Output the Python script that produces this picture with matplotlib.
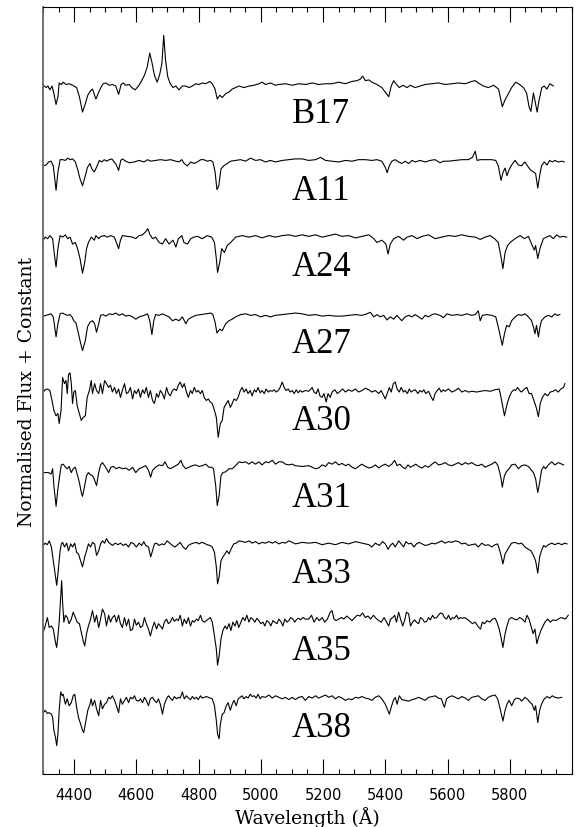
import numpy as np
import matplotlib
matplotlib.use("Agg")
import matplotlib.pyplot as plt
from matplotlib.ticker import MultipleLocator

# (wavelength [A], normalised flux), one list per star
B17 = [(4301,0.98),(4310,0.95),(4316,0.97),(4322,0.92),(4329,0.97),(4334,0.89),(4342,0.73),(4348,0.83),(4352,1.01),(4359,0.99),(4365,1.02),(4374,0.99),(4384,1.00),(4395,0.98),(4408,0.95),(4417,0.83),(4427,0.63),(4436,0.74),(4444,0.85),(4453,0.91),(4459,0.93),(4470,0.80),(4479,0.89),(4486,0.95),(4493,1.00),(4502,1.01),(4513,0.98),(4523,0.99),(4534,0.97),(4543,0.86),(4551,0.99),(4558,1.01),(4566,0.98),(4577,0.99),(4585,0.95),(4596,0.92),(4607,0.97),(4617,1.04),(4626,1.11),(4635,1.22),(4643,1.40),(4650,1.28),(4658,1.11),(4667,1.02),(4675,1.12),(4682,1.26),(4688,1.63),(4694,1.30),(4701,1.09),(4709,1.00),(4718,0.95),(4727,0.97),(4737,0.92),(4748,0.97),(4759,0.97),(4769,0.95),(4780,0.97),(4791,1.00),(4801,0.99),(4812,1.01),(4823,1.00),(4836,1.03),(4844,1.00),(4853,0.93),(4860,0.80),(4868,0.85),(4876,0.82),(4887,0.87),(4897,0.89),(4908,0.93),(4919,0.95),(4930,0.97),(4946,0.95),(4962,0.97),(4978,0.98),(4994,1.00),(5004,1.02),(5015,0.99),(5031,1.01),(5047,0.98),
       (5058,0.99),(5079,1.00),(5101,0.98),(5122,1.00),(5144,0.99),(5165,1.01),(5186,0.99),(5208,1.00),(5229,1.00),(5250,1.02),(5272,1.00),(5293,1.03),(5309,1.04),(5320,1.06),(5327,1.10),(5336,1.04),(5347,1.05),(5357,1.02),(5373,0.99),(5389,0.95),(5402,0.88),(5411,0.83),(5419,0.97),(5427,1.04),(5434,1.00),(5445,0.95),(5456,0.98),(5470,0.95),(5480,0.98),(5496,0.95),(5512,0.97),(5528,0.99),(5550,1.00),(5571,1.01),(5593,0.99),(5614,1.00),(5635,1.01),(5657,1.00),(5678,1.03),(5689,1.04),(5699,1.01),(5715,0.97),(5731,0.95),(5748,0.98),(5764,0.93),(5772,0.78),(5776,0.70),(5785,0.79),(5793,0.85),(5806,0.95),(5819,1.02),(5828,1.00),(5844,0.95),(5854,0.88),(5862,0.70),(5868,0.64),(5876,0.88),(5881,0.78),(5888,0.63),(5894,0.78),(5903,0.95),(5911,0.97),(5919,0.93),(5929,1.00),(5940,0.97)]

A11 = [(4301,0.93),(4310,0.94),(4318,0.98),(4326,0.99),(4333,0.93),(4342,0.61),(4348,0.85),(4355,1.01),(4363,1.01),(4372,1.00),(4379,1.03),(4387,1.01),(4395,1.02),(4404,0.98),(4411,0.89),(4419,0.76),(4427,0.67),(4436,0.80),(4443,0.91),(4451,0.96),(4457,0.89),(4465,0.85),(4472,0.91),(4481,1.00),(4489,0.98),(4497,1.01),(4504,0.99),(4513,1.01),(4521,1.02),(4529,0.98),(4536,0.94),(4543,0.87),(4550,1.00),(4555,1.02),(4566,0.99),(4577,0.97),(4593,0.98),(4609,1.00),(4625,0.98),(4636,1.01),(4646,0.99),(4662,1.00),(4678,1.01),(4694,1.00),(4710,1.01),(4727,0.99),(4737,0.98),(4746,1.01),(4754,0.96),(4764,0.93),(4775,0.98),(4785,0.96),(4796,0.98),(4807,1.01),(4817,1.01),(4828,0.99),(4839,1.00),(4846,0.98),(4853,0.85),(4859,0.62),(4865,0.67),(4872,0.89),(4881,0.93),(4892,0.96),(4903,0.99),(4919,1.00),(4935,1.01),(4951,0.99),(4967,1.03),(4983,1.00),(4999,1.01),(5015,0.98),(5031,1.00),(5047,0.98),(5069,1.00),(5090,1.01),(5111,1.02),(5133,1.02),
       (5154,1.00),(5176,1.01),(5192,1.04),(5208,1.00),(5229,0.99),(5250,0.98),(5272,1.00),(5293,0.99),(5314,1.01),(5336,1.01),(5357,1.00),(5373,1.01),(5389,0.99),(5400,0.91),(5406,0.84),(5413,0.93),(5421,0.99),(5432,1.01),(5443,0.98),(5453,0.96),(5464,0.99),(5475,0.96),(5486,1.00),(5496,0.98),(5512,1.00),(5528,0.98),(5544,1.00),(5560,1.01),(5576,0.97),(5587,0.99),(5603,0.99),(5625,1.00),(5646,1.01),(5667,1.01),(5680,1.04),(5689,1.12),(5695,1.00),(5705,1.01),(5721,1.01),(5742,1.01),(5755,1.00),(5763,0.93),(5772,0.74),(5778,0.84),(5785,0.90),(5791,0.80),(5798,0.88),(5806,0.94),(5817,1.00),(5828,0.94),(5838,0.93),(5849,0.98),(5860,0.91),(5868,0.87),(5876,0.85),(5883,0.83),(5890,0.64),(5896,0.80),(5902,0.93),(5911,0.98),(5920,0.94),(5928,1.00),(5937,0.98),(5945,1.00),(5956,0.98),(5967,0.99),(5975,0.98)]

A24 = [(4301,0.96),(4307,1.00),(4315,0.98),(4322,1.02),(4331,0.98),(4337,0.76),(4342,0.61),(4348,0.85),(4355,1.02),(4363,1.00),(4372,1.03),(4379,0.98),(4387,1.00),(4395,0.91),(4404,0.93),(4411,0.85),(4419,0.72),(4427,0.53),(4434,0.67),(4440,0.85),(4446,0.93),(4455,1.00),(4465,0.96),(4470,1.02),(4479,0.98),(4486,1.01),(4497,1.02),(4507,1.00),(4518,1.02),(4529,1.00),(4536,0.93),(4543,0.85),(4549,0.96),(4555,1.02),(4572,1.01),(4588,1.00),(4598,0.98),(4609,1.02),(4620,1.03),(4630,1.07),(4637,1.11),(4643,1.04),(4652,0.98),(4662,1.00),(4673,0.93),(4684,0.91),(4694,0.98),(4705,0.91),(4718,0.96),(4727,0.87),(4735,0.98),(4746,1.02),(4753,0.93),(4764,0.91),(4775,0.98),(4785,1.00),(4796,1.01),(4812,0.98),(4828,1.02),(4842,1.00),(4851,0.93),(4857,0.72),(4861,0.54),(4868,0.67),(4874,0.85),(4883,0.80),(4892,0.89),(4903,0.93),(4919,1.00),(4940,1.02),(4962,1.00),(4983,1.02),(5004,0.99),(5026,1.02),(5047,1.00),(5069,1.02),(5090,1.03),(5111,1.01),(5133,1.03),
       (5154,1.01),(5176,1.03),(5197,1.00),(5218,1.02),(5240,1.04),(5261,1.01),(5282,1.02),(5304,0.99),(5325,1.01),(5347,1.03),(5363,0.98),(5373,0.93),(5389,0.96),(5402,0.91),(5409,0.78),(5416,0.91),(5427,0.98),(5443,1.01),(5459,0.96),(5470,1.00),(5486,1.02),(5502,0.98),(5518,1.01),(5539,1.03),(5560,0.98),(5582,1.00),(5603,1.02),(5625,1.01),(5646,1.03),(5667,1.01),(5689,1.00),(5705,0.97),(5721,1.00),(5737,1.02),(5751,0.98),(5763,0.93),(5772,0.74),(5778,0.59),(5785,0.80),(5793,0.89),(5804,0.94),(5817,0.98),(5833,1.02),(5847,0.98),(5860,1.01),(5870,0.91),(5879,0.83),(5883,0.89),(5890,0.72),(5897,0.85),(5908,0.98),(5918,1.00),(5929,1.02),(5940,0.98),(5951,1.03),(5961,1.00),(5972,1.01),(5983,1.00)]

A27 = [(4301,0.97),(4310,0.98),(4318,0.99),(4326,1.00),(4333,0.96),(4342,0.70),(4348,0.87),(4355,1.00),(4363,1.01),(4372,0.99),(4379,0.98),(4387,0.99),(4393,0.96),(4399,0.91),(4406,0.88),(4412,0.78),(4419,0.65),(4427,0.52),(4436,0.65),(4443,0.83),(4451,0.89),(4459,0.91),(4466,0.87),(4472,0.76),(4479,0.87),(4485,0.98),(4493,0.99),(4502,0.97),(4513,1.00),(4523,0.99),(4534,1.01),(4545,0.98),(4555,1.00),(4566,0.97),(4577,0.98),(4588,0.96),(4598,0.93),(4609,0.96),(4625,0.98),(4636,1.00),(4643,0.91),(4650,0.73),(4656,0.91),(4662,0.99),(4673,0.98),(4684,1.00),(4694,0.98),(4705,0.96),(4716,0.91),(4727,0.93),(4737,0.91),(4748,0.96),(4759,0.87),(4767,0.93),(4780,0.96),(4791,0.98),(4807,0.99),(4823,1.00),(4839,1.01),(4846,0.99),(4853,0.89),(4859,0.75),(4868,0.80),(4876,0.78),(4887,0.87),(4898,0.91),(4908,0.93),(4919,0.96),(4935,0.99),(4951,1.00),(4967,0.98),(4983,0.99),(4999,0.96),(5015,0.98),(5031,0.96),(5047,0.98),(5069,0.99),(5090,1.00),(5111,1.01),(5133,1.00),
       (5154,0.98),(5176,0.99),(5197,0.97),(5218,0.98),(5240,0.97),(5261,0.97),(5282,0.98),(5304,0.99),(5325,0.98),(5341,1.00),(5352,1.02),(5363,0.96),(5373,0.99),(5384,0.96),(5395,0.98),(5405,0.92),(5416,0.96),(5427,0.93),(5437,0.98),(5453,0.91),(5464,0.96),(5475,0.98),(5486,0.96),(5496,0.99),(5507,0.96),(5518,0.93),(5528,0.98),(5539,0.96),(5550,0.99),(5560,1.00),(5576,0.98),(5587,0.95),(5598,1.00),(5614,0.98),(5630,0.99),(5646,0.98),(5662,1.00),(5678,0.98),(5689,0.99),(5699,1.04),(5705,0.91),(5712,0.98),(5726,0.99),(5742,0.98),(5755,0.96),(5763,0.83),(5770,0.70),(5776,0.59),(5783,0.74),(5790,0.85),(5798,0.83),(5806,0.91),(5817,0.96),(5828,0.99),(5838,0.98),(5849,1.00),(5860,0.96),(5870,0.91),(5876,0.83),(5881,0.74),(5886,0.85),(5892,0.70),(5897,0.83),(5902,0.91),(5913,0.96),(5924,0.98),(5935,0.96),(5945,1.00),(5954,0.98),(5961,0.99)]

A30 = [(4301,0.98),(4307,1.01),(4315,1.02),(4322,1.00),(4329,0.87),(4335,0.74),(4342,0.67),(4348,0.70),(4352,0.57),(4358,0.74),(4363,1.17),(4369,1.09),(4374,1.13),(4378,0.96),(4382,1.21),(4387,1.23),(4391,1.09),(4395,0.83),(4399,0.98),(4404,1.00),(4410,0.80),(4417,0.70),(4423,0.61),(4429,0.65),(4436,0.67),(4442,0.91),(4449,1.00),(4455,1.13),(4459,0.96),(4466,1.09),(4472,1.00),(4479,0.96),(4485,1.09),(4491,0.96),(4498,1.13),(4504,1.09),(4511,1.04),(4517,1.07),(4523,0.98),(4530,1.04),(4536,0.96),(4543,1.02),(4549,0.91),(4555,1.00),(4562,1.09),(4568,0.96),(4575,0.98),(4581,1.04),(4588,0.89),(4594,1.00),(4600,0.96),(4607,1.02),(4613,0.91),(4620,1.01),(4626,0.96),(4632,1.04),(4639,0.91),(4645,1.00),(4652,0.87),(4658,0.83),(4665,0.96),(4671,0.91),(4677,1.00),(4684,0.96),(4690,0.89),(4697,1.04),(4703,0.96),(4709,0.93),(4716,1.00),(4722,1.02),(4729,1.00),(4735,1.07),(4741,1.11),(4748,1.04),(4754,1.09),(4761,0.98),(4767,0.91),(4774,1.00),(4780,0.96),(4786,1.04),(4793,0.98),(4799,1.00),(4806,0.96),(4812,1.00),(4818,0.91),(4825,0.87),(4831,0.89),(4838,0.85),(4844,0.83),(4851,0.74),(4857,0.65),(4863,0.39),(4870,0.57),(4876,0.61),(4882,0.78),(4889,0.83),(4895,0.87),(4902,0.78),(4908,0.83),(4914,0.89),(4921,0.87),(4927,0.91),(4934,1.00),(4940,1.04),(4946,0.98),(4953,1.02),(4959,0.96),(4966,1.00),(4972,0.93),(4979,1.01),(4985,0.98),(4991,1.04),(4998,0.97),(5004,1.00),(5011,0.96),(5017,1.02),(5024,0.98),(5030,1.00),(5037,0.99),(5043,1.01),(5049,0.98),(5056,1.00),(5062,1.04),(5069,1.11),(5075,1.04),(5081,1.00),(5088,1.02),(5094,0.98),(5101,1.00),(5107,0.96),(5114,1.01),(5120,0.97),(5126,1.00),(5133,0.98),(5143,1.00),
       (5154,0.99),(5165,1.04),(5171,0.98),(5178,0.96),(5184,1.02),(5190,0.93),(5197,0.91),(5203,0.96),(5210,0.85),(5216,0.96),(5223,0.91),(5229,0.98),(5238,1.01),(5246,0.96),(5255,0.99),(5263,1.02),(5272,0.98),(5282,1.01),(5293,0.99),(5304,1.02),(5314,0.98),(5325,1.00),(5336,1.03),(5347,1.01),(5357,0.98),(5368,1.00),(5379,0.96),(5387,1.00),(5395,0.93),(5400,0.89),(5406,0.96),(5413,1.04),(5419,0.98),(5426,1.09),(5432,1.11),(5438,1.02),(5445,0.98),(5451,1.04),(5458,0.98),(5464,1.00),(5471,0.96),(5477,1.02),(5483,0.98),(5490,1.00),(5496,1.01),(5505,0.96),(5511,1.00),(5518,0.98),(5524,1.01),(5530,0.96),(5539,0.99),(5548,0.91),(5554,0.87),(5560,0.96),(5567,1.00),(5573,1.03),(5580,0.98),(5586,1.01),(5592,0.99),(5603,1.02),(5614,0.98),(5625,1.00),(5635,1.03),(5646,0.98),(5657,1.00),(5667,0.98),(5680,0.99),(5693,0.98),(5706,0.99),(5721,1.00),(5737,0.99),(5753,1.01),(5766,1.02),(5772,0.91),(5778,0.78),(5783,0.67),(5787,0.74),(5793,0.85),(5800,0.93),(5806,0.98),(5813,1.01),(5819,1.00),(5825,1.04),(5832,1.00),(5838,0.98),(5847,1.02),(5855,1.04),(5862,0.96),(5870,0.96),(5879,0.85),(5885,0.78),(5892,0.66),(5898,0.83),(5905,0.91),(5913,0.96),(5922,0.93),(5930,0.98),(5939,0.99),(5947,1.01),(5956,0.98),(5964,1.02),(5973,1.04),(5977,1.09)]

A31 = [(4301,0.93),(4310,0.93),(4318,0.93),(4326,0.91),(4331,0.98),(4335,0.76),(4342,0.49),(4348,0.72),(4355,0.93),(4359,1.03),(4365,1.04),(4372,1.00),(4378,0.98),(4384,1.01),(4391,0.93),(4397,0.98),(4404,1.00),(4410,0.91),(4417,0.80),(4423,0.67),(4427,0.62),(4434,0.76),(4440,0.89),(4446,0.93),(4453,0.90),(4459,0.89),(4466,0.83),(4472,0.76),(4479,0.93),(4485,1.03),(4491,1.06),(4498,1.02),(4504,0.98),(4511,0.93),(4518,1.00),(4526,1.01),(4536,0.98),(4545,1.00),(4555,0.98),(4566,0.99),(4577,0.96),(4588,1.00),(4598,0.93),(4609,0.98),(4620,1.00),(4630,1.02),(4639,0.96),(4646,0.87),(4652,0.96),(4662,1.00),(4673,1.03),(4684,1.02),(4692,1.07),(4701,1.00),(4709,0.98),(4718,1.00),(4727,1.02),(4735,1.04),(4743,1.09),(4750,1.02),(4759,0.98),(4769,1.00),(4780,1.02),(4791,1.03),(4801,1.01),(4812,1.02),(4823,1.04),(4833,1.00),(4842,1.00),(4848,0.98),(4855,0.76),(4860,0.50),(4866,0.63),(4872,0.89),(4878,0.93),(4887,0.94),(4898,0.98),(4908,0.98),(4919,1.02),(4930,1.07),(4940,1.06),(4951,1.07),(4962,1.04),(4972,1.07),(4983,1.04),(4994,1.07),(5004,1.03),(5015,1.07),(5026,1.06),(5037,1.09),(5047,1.04),(5058,1.07),(5069,1.07),(5079,1.04),(5090,1.03),(5101,1.04),(5111,1.02),(5133,1.01),
       (5154,1.02),(5165,1.00),(5176,0.98),(5186,0.99),(5197,1.03),(5208,1.01),(5218,1.06),(5229,1.04),(5240,1.07),(5250,1.03),(5261,1.05),(5272,1.02),(5282,1.04),(5293,1.00),(5304,0.98),(5314,1.01),(5325,1.04),(5336,1.01),(5347,0.99),(5357,1.00),(5368,1.03),(5379,0.99),(5389,1.02),(5400,1.04),(5411,1.01),(5421,1.04),(5430,1.09),(5438,1.02),(5447,1.04),(5456,1.00),(5464,0.98),(5473,1.03),(5481,1.00),(5490,1.02),(5498,1.04),(5507,1.01),(5518,0.99),(5528,1.02),(5539,1.00),(5550,1.04),(5560,1.07),(5571,1.03),(5582,1.04),(5592,1.06),(5603,1.03),(5614,1.02),(5625,1.04),(5635,1.06),(5646,1.03),(5657,1.06),(5667,1.04),(5678,1.06),(5689,1.03),(5699,1.02),(5710,1.04),(5721,1.00),(5731,1.02),(5742,1.04),(5753,1.07),(5761,1.03),(5768,0.93),(5772,0.85),(5776,0.74),(5783,0.89),(5789,0.94),(5798,0.98),(5806,1.03),(5817,1.04),(5828,0.98),(5838,1.02),(5849,1.03),(5860,1.01),(5868,0.97),(5876,0.93),(5883,0.85),(5890,0.67),(5896,0.80),(5902,0.96),(5909,1.01),(5915,0.98),(5924,1.03),(5935,1.07),(5945,1.03),(5956,1.06),(5967,1.04),(5973,1.03)]

A33 = [(4301,0.98),(4307,1.01),(4314,0.99),(4320,1.04),(4327,0.96),(4333,0.78),(4340,0.57),(4344,0.46),(4348,0.61),(4355,0.91),(4359,1.00),(4363,1.02),(4369,0.96),(4376,1.01),(4382,0.91),(4389,1.00),(4395,0.96),(4402,1.01),(4408,0.89),(4414,0.87),(4421,0.78),(4427,0.70),(4434,0.83),(4440,0.91),(4446,1.00),(4453,0.96),(4459,1.02),(4466,1.00),(4472,0.85),(4479,0.91),(4485,1.00),(4491,1.04),(4498,1.01),(4504,1.07),(4511,1.02),(4517,1.00),(4523,0.98),(4532,1.01),(4541,0.99),(4549,1.01),(4558,0.98),(4566,1.00),(4575,0.96),(4583,1.02),(4592,1.00),(4600,0.96),(4609,1.01),(4617,0.98),(4624,1.03),(4630,0.98),(4639,0.96),(4646,0.83),(4652,0.91),(4658,1.00),(4665,1.01),(4673,0.98),(4682,1.00),(4690,0.99),(4699,1.04),(4707,1.01),(4716,0.98),(4724,0.96),(4733,0.99),(4741,1.02),(4750,0.96),(4759,0.93),(4767,0.98),(4776,1.00),(4783,1.01),(4793,1.02),(4801,1.00),(4810,1.02),(4818,1.01),(4827,0.99),(4836,0.98),(4844,0.96),(4851,0.89),(4857,0.70),(4861,0.48),(4866,0.57),(4872,0.78),(4878,0.83),(4885,0.87),(4891,0.91),(4898,0.87),(4904,0.93),(4913,1.00),(4921,1.01),(4930,1.04),(4940,1.03),(4951,1.02),(4962,1.04),(4972,1.01),(4983,1.03),(4994,1.00),(5004,1.02),(5015,1.01),(5026,1.03),(5037,1.01),(5047,1.03),(5058,1.00),(5069,1.02),(5079,1.01),(5090,1.04),(5101,1.02),(5111,1.00),(5133,1.02),
       (5154,1.01),(5176,1.02),(5197,0.99),(5218,1.01),(5240,0.99),(5261,1.02),(5282,1.00),(5304,1.03),(5325,1.01),(5347,0.99),(5357,0.96),(5368,1.01),(5381,0.98),(5391,1.03),(5400,1.00),(5409,0.93),(5416,0.98),(5424,1.01),(5432,0.96),(5443,1.04),(5451,1.00),(5459,0.96),(5466,1.03),(5475,1.00),(5483,1.01),(5492,0.96),(5500,1.00),(5509,1.02),(5518,1.00),(5528,0.98),(5539,0.99),(5550,1.01),(5560,1.00),(5571,1.02),(5582,1.04),(5592,1.01),(5603,1.03),(5614,1.02),(5625,1.04),(5635,1.03),(5646,1.00),(5657,1.01),(5667,0.98),(5678,0.99),(5689,1.00),(5699,0.96),(5710,1.01),(5721,0.98),(5731,0.99),(5742,0.96),(5753,0.99),(5761,1.00),(5768,0.91),(5772,0.85),(5778,0.74),(5785,0.87),(5791,0.91),(5798,0.96),(5806,1.01),(5817,1.02),(5828,1.00),(5838,1.01),(5849,0.96),(5860,0.93),(5868,0.91),(5876,0.85),(5883,0.78),(5890,0.62),(5896,0.83),(5902,0.91),(5909,0.98),(5915,0.96),(5924,0.99),(5935,1.01),(5945,0.99),(5956,1.01),(5967,0.99),(5977,1.01),(5984,1.00)]

A35 = [(4301,0.85),(4307,0.93),(4314,1.04),(4320,0.91),(4327,0.93),(4333,0.89),(4340,0.72),(4344,0.65),(4348,0.80),(4352,0.98),(4357,1.33),(4360,1.52),(4363,1.24),(4367,0.98),(4372,1.07),(4378,1.04),(4384,0.96),(4391,1.02),(4397,1.11),(4404,1.04),(4410,0.98),(4417,0.96),(4423,0.85),(4429,0.74),(4434,0.67),(4440,0.83),(4446,0.93),(4453,1.02),(4459,1.13),(4466,0.98),(4472,1.07),(4479,0.91),(4485,1.02),(4491,1.15),(4498,1.09),(4504,0.93),(4511,1.07),(4517,0.98),(4523,1.04),(4530,1.07),(4536,0.98),(4543,1.07),(4549,0.96),(4555,0.91),(4562,1.04),(4568,0.93),(4575,1.02),(4581,0.87),(4588,0.89),(4594,1.02),(4600,0.94),(4607,0.98),(4613,0.91),(4620,0.93),(4626,1.04),(4632,0.96),(4639,0.89),(4645,0.80),(4652,0.91),(4658,0.98),(4665,0.89),(4671,0.96),(4677,0.93),(4684,0.89),(4690,0.98),(4697,1.02),(4703,0.96),(4709,0.98),(4716,1.04),(4722,0.99),(4729,1.02),(4735,1.00),(4741,1.07),(4748,0.93),(4754,1.02),(4761,0.96),(4767,1.04),(4774,0.93),(4780,1.00),(4786,0.98),(4793,1.02),(4799,1.00),(4806,1.07),(4812,1.00),(4818,0.98),(4825,1.00),(4831,1.02),(4838,1.04),(4844,0.98),(4851,0.80),(4857,0.63),(4861,0.42),(4866,0.54),(4872,0.76),(4878,0.87),(4885,0.93),(4891,0.89),(4898,0.96),(4904,0.87),(4910,0.98),(4917,0.93),(4923,1.00),(4929,0.91),(4936,0.98),(4942,1.04),(4949,1.00),(4955,1.07),(4962,0.98),(4968,1.04),(4974,1.02),(4981,0.98),(4987,1.03),(4994,1.00),(5000,0.96),(5007,0.98),(5013,0.93),(5019,1.00),(5026,0.98),(5032,0.93),(5039,1.00),(5045,0.98),(5052,0.96),(5058,1.02),(5064,0.99),(5071,0.93),(5077,1.02),(5084,0.98),(5090,1.00),(5096,1.04),(5103,1.02),(5109,0.98),(5116,1.02),(5122,1.03),(5128,1.01),(5135,1.04),(5143,1.02),
       (5154,1.02),(5163,1.07),(5171,0.98),(5180,1.04),(5188,1.00),(5197,1.04),(5205,0.98),(5214,1.02),(5223,1.11),(5229,1.13),(5235,1.02),(5242,1.00),(5250,1.02),(5259,1.04),(5267,1.02),(5276,1.06),(5285,1.03),(5293,1.00),(5302,1.04),(5310,1.07),(5319,1.06),(5327,1.10),(5336,1.04),(5344,1.06),(5353,1.02),(5362,1.07),(5370,1.03),(5379,1.00),(5387,0.98),(5396,1.04),(5404,0.98),(5411,0.93),(5417,1.02),(5424,1.04),(5430,1.07),(5436,0.98),(5443,1.11),(5449,1.02),(5456,0.93),(5462,1.00),(5468,1.11),(5475,1.09),(5481,0.93),(5488,0.98),(5494,1.01),(5500,0.98),(5507,0.96),(5513,1.04),(5520,1.02),(5526,0.98),(5533,0.99),(5539,1.04),(5545,1.01),(5552,1.07),(5558,1.03),(5565,1.04),(5571,1.07),(5577,1.10),(5584,1.09),(5590,1.04),(5597,1.02),(5603,1.07),(5610,1.01),(5616,1.04),(5622,1.03),(5629,1.07),(5635,1.02),(5642,1.04),(5648,1.03),(5654,1.04),(5663,1.02),(5672,0.99),(5680,0.96),(5689,0.98),(5697,0.93),(5706,0.89),(5712,0.98),(5719,0.96),(5727,1.00),(5736,0.98),(5744,1.02),(5753,1.03),(5759,0.98),(5766,0.89),(5772,0.78),(5778,0.65),(5785,0.83),(5791,0.93),(5798,1.02),(5806,1.04),(5815,1.02),(5823,1.01),(5832,1.04),(5840,1.02),(5849,0.98),(5855,1.07),(5862,1.02),(5868,0.93),(5875,0.83),(5881,0.89),(5887,0.70),(5894,0.80),(5900,0.87),(5907,0.93),(5913,0.98),(5922,1.02),(5930,0.98),(5939,1.01),(5947,1.00),(5956,1.02),(5964,1.04),(5973,1.03),(5979,1.02),(5988,1.07)]

A38 = [(4301,0.80),(4307,0.83),(4314,0.79),(4320,0.80),(4327,0.78),(4331,0.74),(4335,0.57),(4340,0.48),(4344,0.37),(4348,0.52),(4352,0.83),(4357,1.07),(4362,1.02),(4365,1.04),(4372,0.91),(4378,0.98),(4384,0.89),(4391,0.93),(4397,1.02),(4402,1.04),(4408,0.87),(4414,0.74),(4421,0.65),(4427,0.57),(4431,0.54),(4438,0.70),(4444,0.83),(4451,0.91),(4455,0.98),(4459,0.89),(4466,0.96),(4472,0.85),(4479,0.76),(4485,0.96),(4491,0.85),(4498,0.91),(4504,0.93),(4511,1.00),(4517,0.98),(4523,1.02),(4530,0.96),(4536,0.89),(4543,0.80),(4549,0.98),(4555,0.91),(4562,0.96),(4568,1.00),(4575,0.93),(4581,1.00),(4588,0.98),(4594,1.02),(4600,0.96),(4607,0.95),(4613,0.98),(4620,0.93),(4626,1.00),(4632,0.96),(4639,0.89),(4645,0.98),(4652,1.00),(4658,0.96),(4665,0.93),(4671,0.98),(4677,0.91),(4684,0.78),(4690,0.91),(4697,0.98),(4703,1.02),(4709,0.99),(4716,0.96),(4722,1.01),(4729,0.98),(4735,1.00),(4741,0.99),(4748,1.07),(4754,0.98),(4761,1.02),(4767,0.99),(4774,0.97),(4780,1.01),(4786,0.98),(4793,1.00),(4799,0.97),(4806,1.02),(4812,0.99),(4818,1.00),(4825,1.01),(4831,1.00),(4838,0.99),(4844,0.98),(4851,0.89),(4857,0.70),(4861,0.52),(4866,0.46),(4870,0.65),(4876,0.78),(4882,0.80),(4889,0.89),(4895,0.93),(4902,0.83),(4908,0.91),(4914,0.96),(4921,0.89),(4927,0.98),(4934,1.00),(4940,1.02),(4946,0.98),(4953,1.01),(4959,0.99),(4966,1.04),(4972,1.01),(4979,1.02),(4985,0.99),(4991,1.04),(4998,0.98),(5004,1.01),(5015,1.00),(5026,1.03),(5037,0.99),(5047,1.02),(5058,1.00),(5069,0.98),(5079,1.00),(5090,0.97),(5101,1.00),(5111,0.97),(5122,1.00),(5133,1.01),(5143,0.96),
       (5154,1.01),(5165,0.99),(5176,1.02),(5186,0.99),(5197,1.01),(5208,1.03),(5218,1.00),(5229,1.02),(5240,0.98),(5250,1.01),(5261,0.99),(5272,0.96),(5282,0.98),(5293,0.97),(5304,1.00),(5314,0.99),(5325,1.01),(5336,0.99),(5347,0.98),(5357,0.96),(5368,1.00),(5379,1.02),(5389,0.98),(5400,0.91),(5406,0.85),(5413,0.78),(5419,0.87),(5426,0.96),(5432,1.00),(5438,0.91),(5445,1.02),(5453,0.97),(5464,0.96),(5475,0.95),(5486,0.97),(5496,0.98),(5507,1.00),(5518,0.98),(5528,0.96),(5539,1.00),(5552,1.01),(5560,1.02),(5571,0.99),(5580,0.98),(5586,0.91),(5590,0.87),(5597,0.98),(5603,1.00),(5614,1.02),(5625,1.00),(5635,0.98),(5646,1.01),(5657,0.99),(5667,0.96),(5678,1.00),(5689,1.01),(5699,1.02),(5710,0.98),(5721,0.96),(5731,1.00),(5742,1.02),(5753,1.03),(5761,0.98),(5768,0.87),(5774,0.76),(5778,0.69),(5785,0.83),(5791,0.91),(5798,0.96),(5806,0.89),(5815,0.97),(5823,0.99),(5832,0.98),(5838,0.95),(5849,1.00),(5858,0.97),(5866,0.93),(5872,0.91),(5879,0.83),(5883,0.89),(5890,0.67),(5896,0.83),(5902,0.91),(5911,0.98),(5920,1.01),(5928,0.99),(5937,1.02),(5945,1.00),(5956,0.99),(5967,1.00)]

names = ["B17", "A11", "A24", "A27", "A30", "A31", "A33", "A35", "A38"]
spectra = [B17, A11, A24, A27, A30, A31, A33, A35, A38]
offsets = [8, 7, 6, 5, 4, 3, 2, 1, 0]

fig = plt.figure(figsize=(5.81, 8.28), dpi=100)
ax = fig.add_axes([0.074, 0.064, 0.9105, 0.9263])

for name, spec, off in zip(names, spectra, offsets):
    wl, fl = np.array(spec).T
    ax.plot(wl, fl + off, color="black", lw=0.8)
    ax.text(5100, off + 0.5, name, fontsize=25, family="Liberation Serif",
            ha="left", va="baseline")

ax.set_xlim(4300, 6000)
ax.set_ylim(0, 10)
ax.xaxis.set_major_locator(MultipleLocator(200))
ax.xaxis.set_minor_locator(MultipleLocator(50))
ax.set_xticks([4400, 4600, 4800, 5000, 5200, 5400, 5600, 5800])
ax.tick_params(axis="x", which="both", direction="in", top=True, bottom=True)
ax.tick_params(axis="x", which="major", length=11, width=0.8, labelsize=10.5, pad=9)
ax.tick_params(axis="x", which="minor", length=3.6, width=0.8)
ax.set_yticks([])
for s in ax.spines.values():
    s.set_linewidth(0.8)
ax.spines["left"].set_color("0.4")
ax.spines["left"].set_linewidth(1.3)

ax.set_xlabel("Wavelength (Å)", fontsize=13.5, family="DejaVu Serif", labelpad=3)
ax.set_ylabel("Normalised Flux + Constant", fontsize=13.5, family="DejaVu Serif", labelpad=5)

fig.savefig("out.png", dpi=100)
